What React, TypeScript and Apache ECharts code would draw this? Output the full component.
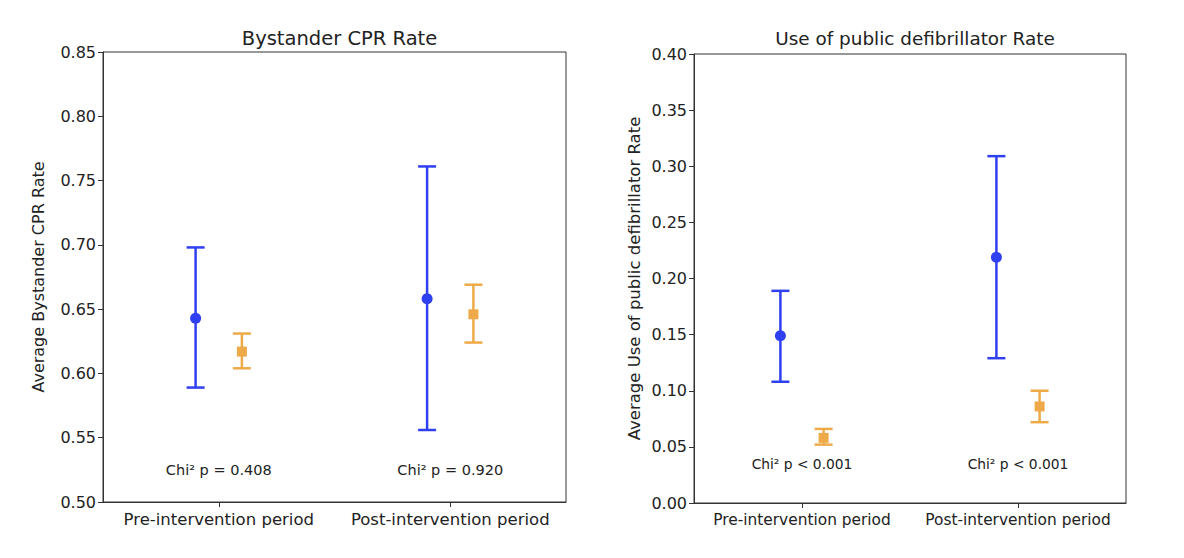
import React, { useEffect, useRef } from "react";
import * as echarts from "echarts";

const categories = ["Pre-intervention period", "Post-intervention period"];

const cprBlueMean = [0.643, 0.658];
const cprBlueLow = [0.589, 0.556];
const cprBlueHigh = [0.698, 0.761];
const cprOrangeMean = [0.617, 0.646];
const cprOrangeLow = [0.604, 0.624];
const cprOrangeHigh = [0.631, 0.669];
const cprPText = ["Chi² p = 0.408", "Chi² p = 0.920"];
const cprPY = 0.525;

const aedBlueMean = [0.149, 0.219];
const aedBlueLow = [0.108, 0.129];
const aedBlueHigh = [0.189, 0.309];
const aedOrangeMean = [0.058, 0.086];
const aedOrangeLow = [0.052, 0.072];
const aedOrangeHigh = [0.066, 0.1];
const aedPText = ["Chi² p < 0.001", "Chi² p < 0.001"];
const aedPY = 0.035;

const BLUE = "#2f3ff2";
const ORANGE = "#eeaa48";
const FONT = "DejaVu Sans";

function errSeries(idx: number, mean: number[], low: number[], high: number[], color: string, offset: number, shape: "circle" | "square") {
  return {
    type: "custom",
    xAxisIndex: idx,
    yAxisIndex: idx,
    data: mean.map((m, i) => [i, m, low[i], high[i]]),
    renderItem: (params: any, api: any) => {
      const i = api.value(0);
      const band = api.size([1, 0])[0];
      const pm = api.coord([i, api.value(1)]);
      const pl = api.coord([i, api.value(2)]);
      const ph = api.coord([i, api.value(3)]);
      const x = pm[0] + offset * band;
      const cap = 9;
      const ls = { stroke: color, lineWidth: 2.5 };
      const children: any[] = [
        { type: "line", shape: { x1: x, y1: pl[1], x2: x, y2: ph[1] }, style: ls },
        { type: "line", shape: { x1: x - cap, y1: pl[1], x2: x + cap, y2: pl[1] }, style: ls },
        { type: "line", shape: { x1: x - cap, y1: ph[1], x2: x + cap, y2: ph[1] }, style: ls },
      ];
      if (shape === "circle") {
        children.push({ type: "circle", shape: { cx: x, cy: pm[1], r: 5.5 }, style: { fill: color } });
      } else {
        children.push({ type: "rect", shape: { x: x - 5, y: pm[1] - 5, width: 10, height: 10 }, style: { fill: color } });
      }
      return { type: "group", children };
    },
  };
}

function textSeries(idx: number, texts: string[], yv: number, size: number) {
  return {
    type: "custom",
    xAxisIndex: idx,
    yAxisIndex: idx,
    data: texts.map((t, i) => [i, yv]),
    renderItem: (params: any, api: any) => {
      const p = api.coord([api.value(0), api.value(1)]);
      return {
        type: "text",
        x: p[0],
        y: p[1],
        style: {
          text: texts[params.dataIndex],
          fill: "#222",
          font: `${size}px '${FONT}'`,
          align: "center",
          verticalAlign: "middle",
        },
      };
    },
  };
}

function yAxisCfg(idx: number, min: number, max: number, name: string, gap: number, nameSize: number) {
  return {
    type: "value",
    gridIndex: idx,
    min,
    max,
    interval: 0.05,
    name,
    nameLocation: "middle",
    nameGap: gap,
    nameTextStyle: { fontFamily: FONT, fontSize: nameSize, color: "#222" },
    axisLine: { show: true, lineStyle: { color: "#333", width: 1 } },
    axisTick: { show: true, length: 5, lineStyle: { color: "#333" } },
    axisLabel: { fontFamily: FONT, fontSize: 16, color: "#222", margin: 7, formatter: (v: number) => v.toFixed(2) },
    splitLine: { show: false },
  };
}

function xAxisCfg(idx: number, size: number) {
  return {
    type: "category",
    gridIndex: idx,
    data: categories,
    boundaryGap: true,
    axisLine: { show: true, lineStyle: { color: "#333", width: 1 } },
    axisTick: { show: true, alignWithLabel: true, length: 5, lineStyle: { color: "#333" } },
    axisLabel: { fontFamily: FONT, fontSize: size, color: "#222", margin: 9, interval: 0 },
    splitLine: { show: false },
  };
}

export default function App() {
  const ref = useRef<HTMLDivElement>(null);
  useEffect(() => {
    if (!ref.current) return;
    const chart = echarts.init(ref.current, undefined, { renderer: "svg" });
    chart.setOption({
      animation: false,
      backgroundColor: "#fff",
      title: [
        { text: "Bystander CPR Rate", left: 334.5, top: 23, textAlign: "center", textStyle: { fontFamily: FONT, fontSize: 19.5, fontWeight: "normal", color: "#222" } },
        { text: "Use of public defibrillator Rate", left: 910, top: 24, textAlign: "center", textStyle: { fontFamily: FONT, fontSize: 18.4, fontWeight: "normal", color: "#222" } },
      ],
      grid: [
        { left: 103, top: 52, width: 463, height: 450, show: true, borderColor: "#333", borderWidth: 1, backgroundColor: "transparent" },
        { left: 694, top: 54, width: 432, height: 449, show: true, borderColor: "#333", borderWidth: 1, backgroundColor: "transparent" },
      ],
      xAxis: [xAxisCfg(0, 16.5), xAxisCfg(1, 15.4)],
      yAxis: [
        yAxisCfg(0, 0.5, 0.85, "Average Bystander CPR Rate", 57, 16),
        yAxisCfg(1, 0, 0.4, "Average Use of public defibrillator Rate", 51, 16.5),
      ],
      series: [
        errSeries(0, cprBlueMean, cprBlueLow, cprBlueHigh, BLUE, -0.1, "circle"),
        errSeries(0, cprOrangeMean, cprOrangeLow, cprOrangeHigh, ORANGE, 0.1, "square"),
        textSeries(0, cprPText, cprPY, 14.5),
        errSeries(1, aedBlueMean, aedBlueLow, aedBlueHigh, BLUE, -0.1, "circle"),
        errSeries(1, aedOrangeMean, aedOrangeLow, aedOrangeHigh, ORANGE, 0.1, "square"),
        textSeries(1, aedPText, aedPY, 13.8),
      ],
    });
    return () => chart.dispose();
  }, []);
  return <div ref={ref} style={{ position: "fixed", left: 0, top: 0, width: 1184, height: 558 }} />;
}
